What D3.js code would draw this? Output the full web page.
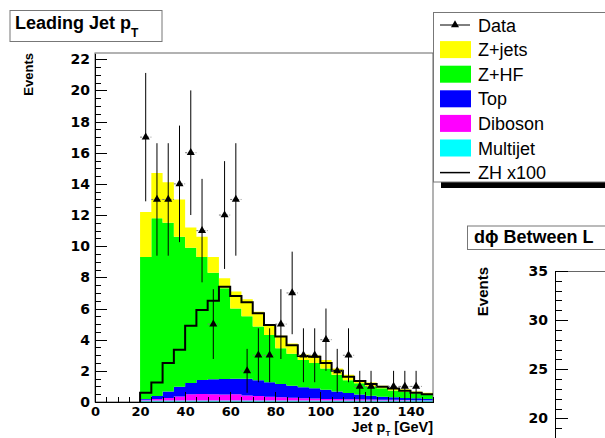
<!DOCTYPE html>
<html><head><meta charset="utf-8">
<script src="https://cdn.jsdelivr.net/npm/d3@7"></script>
<style>
html,body{margin:0;padding:0;background:#fff;overflow:hidden}
svg{display:block}
</style></head><body>
<svg id="c" width="605" height="438"></svg>
<script>
// ---------- data ----------
const binLow = [20,25,30,35,40,45,50,55,60,65,70,75,80,85,90,95,100,105,110,115,120,125,130,135,140,145];
const binWidth = 5;
const multijet = [0.1,0.1,0.1,0.1,0.1,0.1,0.1,0.1,0.1,0.1,0.1,0.1,0.1,0.1,0.1,0.1,0.1,0.1,0.1,0.1,0.1,0.1,0.1,0.1,0.1,0.1];
const diboson  = [0.05,0.1,0.15,0.25,0.4,0.42,0.4,0.38,0.4,0.32,0.28,0.23,0.2,0.17,0.14,0.12,0.1,0.09,0.08,0.07,0.06,0.05,0.04,0.03,0.02,0.02];
const topVals  = [0.05,0.18,0.43,0.63,0.72,0.89,0.96,0.99,1.0,1.08,1.02,0.93,0.86,0.78,0.71,0.66,0.58,0.49,0.4,0.31,0.24,0.19,0.16,0.13,0.12,0.08];
const zhf      = [9.1,11.42,10.82,9.62,8.68,7.89,6.84,5.83,4.5,4.0,3.45,3.04,2.29,2.05,1.75,1.62,1.37,1.07,0.82,0.72,0.6,0.54,0.44,0.4,0.32,0.26];
const zjets    = [2.9,2.9,2.6,2.4,1.3,1.3,1.0,0.65,1.1,1.1,0.95,0.7,0.8,0.65,0.35,0.5,0.55,0.4,0.35,0.22,0.25,0.17,0.16,0.16,0.12,0.14];
const zh100    = [0.6,1.25,2.5,3.35,4.9,5.9,6.5,7.4,6.8,6.4,5.7,4.94,4.2,3.65,2.95,2.9,2.5,2.0,1.62,1.35,1.16,0.98,0.86,0.73,0.6,0.5];
const dataX    = [22.5,27.5,32.5,37.5,42.5,47.5,52.5,57.5,62.5,67.5,72.5,77.5,82.5,87.5,92.5,97.5,102.5,107.5,112.5,117.5,122.5,127.5,132.5,137.5,142.5,147.5];
const dataY    = [17,13,13,14,16,11,5,12,13,2,3,3,5,7,3,3,4,2,3,1,1,0,1,1,1,0];
const dataErr  = [4.12,3.61,3.61,3.74,4,3.32,2.24,3.46,3.61,1.41,1.73,1.73,2.24,2.65,1.73,1.73,2,1.41,1.73,1,1,0,1,1,1,0];
const xTicks   = [0,20,40,60,80,100,120,140];
const yTicks   = [0,2,4,6,8,10,12,14,16,18,20,22];
const y2Ticks  = [20,25,30,35];
const legendLabels = ['Data','Z+jets','Z+HF','Top','Diboson','Multijet','ZH x100'];
const seriesKeys = ['multijet','diboson','top','zhf','zjets'];
const seriesColors = {multijet:'#00ffff', diboson:'#ff00ff', top:'#0000ff', zhf:'#00ff00', zjets:'#ffff00'};

// ---------- setup ----------
const svg = d3.select('#c');
const tickFont = 'DejaVu Sans, sans-serif';
const textFont = 'Liberation Sans, Arial, sans-serif';
const x = d3.scaleLinear().domain([0,150]).range([95,433]);
const y = d3.scaleLinear().domain([0,22.4]).range([402,53]);

// ---------- stacked histograms ----------
const rows = binLow.map((b,i)=>({multijet:multijet[i], diboson:diboson[i], top:topVals[i], zhf:zhf[i], zjets:zjets[i]}));
const stacked = d3.stack().keys(seriesKeys)(rows);
const area = d3.area().curve(d3.curveStepAfter).x(d=>x(d.xv)).y0(d=>y(d.y0)).y1(d=>y(d.y1));
stacked.forEach(layer=>{
  const pts = layer.map((d,i)=>({xv:binLow[i], y0:d[0], y1:d[1]}));
  const last = pts[pts.length-1];
  pts.push({xv:binLow[binLow.length-1]+binWidth, y0:last.y0, y1:last.y1});
  svg.append('path').attr('d', area(pts)).attr('fill', seriesColors[layer.key]);
});

// ---------- frame ----------
svg.append('rect').attr('x',x(0)).attr('y',y(22.4)).attr('width',x(150)-x(0)).attr('height',y(0)-y(22.4))
  .attr('fill','none').attr('stroke','#666').attr('stroke-width',1);

// ---------- axes ----------
function styleAxis(g, size){
  g.attr('font-family', tickFont).attr('font-weight','bold').attr('font-size', size);
  g.selectAll('line,path').attr('stroke','#000').attr('shape-rendering','crispEdges');
  g.selectAll('text').attr('fill','#000');
}
svg.append('g').attr('transform',`translate(${x(0)},0)`)
  .call(d3.axisLeft(y).tickValues(d3.range(0,22.01,0.5)).tickSizeInner(-6).tickSizeOuter(0).tickFormat(''))
  .call(g=>styleAxis(g,14));
svg.append('g').attr('transform',`translate(${x(0)},0)`)
  .call(d3.axisLeft(y).tickValues(yTicks).tickSizeInner(-12).tickSizeOuter(0).tickPadding(5).tickFormat(d3.format('d')))
  .call(g=>styleAxis(g,14));
svg.append('g').attr('transform',`translate(0,${y(0)})`)
  .call(d3.axisBottom(x).tickValues(d3.range(0,150.01,5)).tickSizeInner(-5).tickSizeOuter(0).tickFormat(''))
  .call(g=>styleAxis(g,13));
svg.append('g').attr('transform',`translate(0,${y(0)})`)
  .call(d3.axisBottom(x).tickValues(xTicks).tickSizeInner(-10).tickSizeOuter(0).tickPadding(5).tickFormat(d3.format('d')))
  .call(g=>styleAxis(g,13));

// ---------- ZH x100 line ----------
const zhPts = [{xv:binLow[0], v:0}].concat(binLow.map((b,i)=>({xv:b, v:zh100[i]})))
  .concat([{xv:binLow[binLow.length-1]+binWidth, v:zh100[zh100.length-1]}]);
svg.append('path').attr('d', d3.line().curve(d3.curveStepAfter).x(d=>x(d.xv)).y(d=>y(d.v))(zhPts))
  .attr('fill','none').attr('stroke','#000').attr('stroke-width',2);

// ---------- data points ----------
const tri = d3.symbol().type(d3.symbolTriangle).size(28);
const gd = svg.append('g');
dataX.forEach((cx,i)=>{
  const v = dataY[i];
  if (v <= 0) return;
  gd.append('line').attr('x1',x(cx-binWidth/2)).attr('x2',x(cx+binWidth/2)).attr('y1',y(v)).attr('y2',y(v))
    .attr('stroke','#777').attr('stroke-width',1).attr('stroke-dasharray','2,1.5');
  gd.append('line').attr('x1',x(cx)).attr('x2',x(cx)).attr('y1',y(v-dataErr[i])).attr('y2',y(v+dataErr[i]))
    .attr('stroke','#000').attr('stroke-width',1);
  gd.append('path').attr('d',tri()).attr('transform',`translate(${x(cx)},${y(v)})`).attr('fill','#000');
});

// ---------- axis titles ----------
svg.append('text').attr('transform',`translate(33,${y(22.4)}) rotate(-90)`).attr('text-anchor','end')
  .attr('font-family',textFont).attr('font-weight','bold').attr('font-size',13).text('Events');
const xt = svg.append('text').attr('x',x(150)).attr('y',432).attr('text-anchor','end')
  .attr('font-family',textFont).attr('font-weight','bold').attr('font-size',14.5);
xt.append('tspan').text('Jet p');
xt.append('tspan').attr('dy',4).attr('font-size',8).text('T');
xt.append('tspan').attr('dy',-4).text(' [GeV]');

// ---------- title ----------
svg.append('rect').attr('x',10).attr('y',10.5).attr('width',152).attr('height',31).attr('fill','#fff').attr('stroke','#777');
const tt = svg.append('text').attr('x',15).attr('y',29).attr('font-family',textFont).attr('font-weight','bold').attr('font-size',18);
tt.append('tspan').text('Leading Jet p');
tt.append('tspan').attr('dy',8).attr('font-size',12).text('T');

// ---------- legend ----------
svg.append('rect').attr('x',441).attr('y',182).attr('width',200).attr('height',6).attr('fill','#000');
svg.append('rect').attr('x',433.5).attr('y',12.5).attr('width',200).attr('height',169.5).attr('fill','#fff').attr('stroke','#777');
const legColors = [null, seriesColors.zjets, seriesColors.zhf, seriesColors.top, seriesColors.diboson, seriesColors.multijet, null];
legendLabels.forEach((lab,i)=>{
  const cy = 25 + i*24.6;
  if (i === 0) {
    svg.append('line').attr('x1',440).attr('x2',470).attr('y1',cy).attr('y2',cy).attr('stroke','#000').attr('stroke-width',1);
    svg.append('path').attr('d',tri()).attr('transform',`translate(455,${cy})`).attr('fill','#000');
  } else if (i === legendLabels.length-1) {
    svg.append('line').attr('x1',440).attr('x2',470).attr('y1',cy).attr('y2',cy).attr('stroke','#000').attr('stroke-width',1.5);
  } else {
    svg.append('rect').attr('x',440).attr('y',cy-8.5).attr('width',31).attr('height',17).attr('fill',legColors[i]);
  }
  svg.append('text').attr('x',478).attr('y',cy+6.5).attr('font-family',textFont).attr('font-size',18).attr('fill','#000').text(lab);
});

// ---------- second panel (partially visible) ----------
const y2 = d3.scaleLinear().domain([18,35]).range([438,271]);
svg.append('line').attr('x1',555).attr('x2',640).attr('y1',y2(35)).attr('y2',y2(35)).attr('stroke','#666').attr('shape-rendering','crispEdges');
svg.append('g').attr('transform','translate(555,0)')
  .call(d3.axisLeft(y2).tickValues(d3.range(18,35.01,1)).tickSizeInner(-6.5).tickSizeOuter(0).tickFormat(''))
  .call(g=>styleAxis(g,14));
svg.append('g').attr('transform','translate(555,0)')
  .call(d3.axisLeft(y2).tickValues(y2Ticks).tickSizeInner(-13).tickSizeOuter(0).tickPadding(7).tickFormat(d3.format('d')))
  .call(g=>styleAxis(g,14));
svg.append('text').attr('transform','translate(488,267) rotate(-90)').attr('text-anchor','end')
  .attr('font-family',textFont).attr('font-weight','bold').attr('font-size',15).text('Events');
svg.append('rect').attr('x',467.5).attr('y',226).attr('width',200).attr('height',23.5).attr('fill','#fff').attr('stroke','#777');
svg.append('text').attr('x',474).attr('y',242.5).attr('font-family',textFont).attr('font-weight','bold').attr('font-size',18).text('dϕ Between L');
</script>
</body></html>
